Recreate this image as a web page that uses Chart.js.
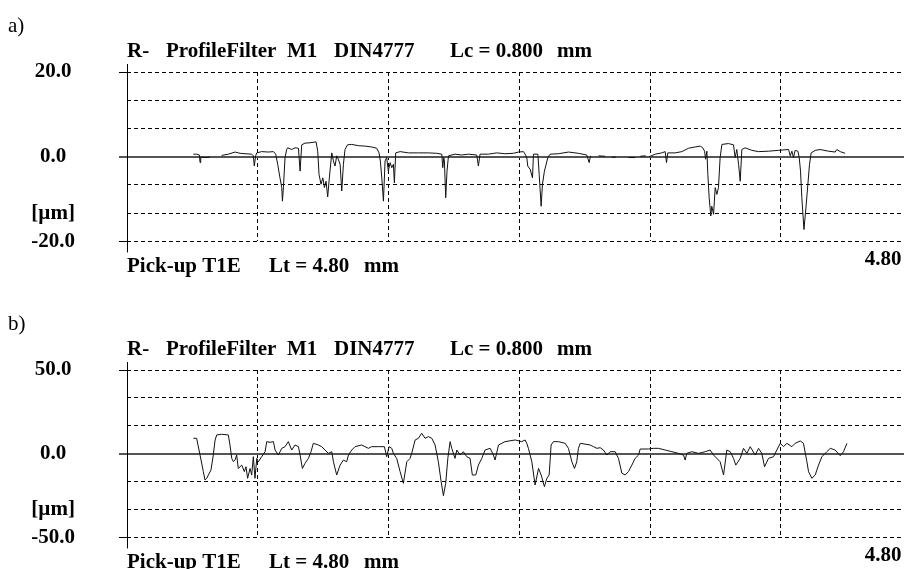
<!DOCTYPE html>
<html>
<head>
<meta charset="utf-8">
<title>R-Profil</title>
<script src="https://cdn.jsdelivr.net/npm/chart.js@4.4.1/dist/chart.umd.min.js"></script>
<style>
  html, body { margin: 0; padding: 0; background: #fff; overflow: hidden; }
  body { width: 904px; height: 569px; position: relative; }
  canvas { position: absolute; left: 0; }
  #profilA { top: 0; }
  #profilB { top: 298px; }
</style>
</head>
<body>
<canvas id="profilA" width="920" height="298"></canvas>
<canvas id="profilB" width="920" height="296"></canvas>
<script>
// Taststrecke Lt in mm, Raster alle 0.8 mm
const xTicks = [0, 0.8, 1.6, 2.4, 3.2, 4.0, 4.8];

// a) Bereich +-20 µm
const yTicksA = [-20, -40 / 3, -20 / 3, 0, 20 / 3, 40 / 3, 20];
const yLabelsA = ["-20.0", "[µm]", "", "0.0", "", "", "20.0"];

// b) Bereich +-50 µm
const yTicksB = [-50, -100 / 3, -50 / 3, 0, 50 / 3, 100 / 3, 50];
const yLabelsB = ["-50.0", "[µm]", "", "0.0", "", "", "50.0"];

// Kopf- und Fusszeile (Text, Abstand von der Achse)
const kopfzeile = [["R-", 0], ["ProfileFilter", 39], ["M1", 160], ["DIN4777", 207], ["Lc = 0.800", 323], ["mm", 430]];
const fusszeile = [["Pick-up T1E", 0], ["Lt = 4.80", 142], ["mm", 237]];

// Profil a): x in mm, y in µm (null = Messluecke)
const profilA_x = [
  0.406, 0.426, 0.443, 0.447, 0.451, 0.477, 0.508, 0.54,
  0.579, 0.620, 0.661, 0.692, 0.722, 0.763, 0.773, 0.779, 0.787, 0.794,
  0.824, 0.865, 0.896, 0.910, 0.922, 0.936, 0.947, 0.951, 0.957, 0.967,
  0.977, 0.983, 1.008, 1.028, 1.049, 1.059, 1.069, 1.089, 1.120, 1.157,
  1.167, 1.175, 1.187, 1.198, 1.208, 1.218, 1.228, 1.238, 1.253, 1.263,
  1.273, 1.283, 1.293, 1.304, 1.314, 1.324, 1.334, 1.349, 1.375, 1.416,
  1.457, 1.497, 1.528, 1.542, 1.550, 1.559, 1.569, 1.579, 1.589, 1.599,
  1.610, 1.620, 1.630, 1.636, 1.644, 1.671, 1.722, 1.783, 1.844, 1.895,
  1.926, 1.932, 1.938, 1.942, 1.950, 1.958, 1.967, 2.007, 2.048, 2.089,
  2.140, 2.150, 2.160, 2.211, 2.262, 2.313, 2.364, 2.395, 2.426, 2.436,
  2.446, 2.452, 2.467, 2.481, 2.487, 2.514, 2.522, 2.534, 2.542, 2.554,
  2.562, 2.575, 2.589, 2.640, 2.701, 2.762, 2.813, 2.828, 2.836, 2.86,
  2.885, 2.926, 2.95, 2.966, 2.991, 3.03, 3.068, 3.109, 3.125, 3.140,
  3.174, 3.185, 3.195, 3.232, 3.272, 3.293, 3.301, 3.309, 3.354, 3.395,
  3.436, 3.476, 3.507, 3.523, 3.534, 3.540, 3.548, 3.554, 3.562, 3.572,
  3.578, 3.589, 3.599, 3.609, 3.619, 3.629, 3.640, 3.680, 3.711, 3.721,
  3.731, 3.742, 3.752, 3.762, 3.782, 3.823, 3.864, 3.925, 3.986, 4.048,
  4.058, 4.068, 4.078, 4.088, 4.105, 4.113, 4.121, 4.129, 4.142, 4.154,
  4.166, 4.176, 4.186, 4.211, 4.241, 4.292, 4.333, 4.343, 4.364, 4.394
];
const profilA_y = [
  0.6, 0.6, 0.4, -1.4, -0.1, -0.2, -0.1, null,
  0.3, 0.6, 1.1, 0.8, 0.7, 0.6, 0.2, -2.2, 0.2, 0.9,
  1.2, 1.1, 1.2, 0.6, -1.8, -5.0, -7.3, -10.5, -7.3, -0.2,
  1.7, 2.1, 1.7, 2.1, 2.0, -3.4, 2.8, 3.2, 3.3, 3.5,
  1.3, -4.2, -6.5, -5.0, -7.3, -5.8, -9.5, -5.0, 0.9, -1.0,
  -2.2, 0.2, -0.6, -1.8, -8.1, -1.8, 1.7, 2.8, 2.9, 2.6,
  2.5, 2.3, 2.0, 0.9, -1.0, -5.0, -10.5, -1.0, -0.2, -3.4,
  -1.4, -2.6, -1.8, -6.2, 0.9, 1.2, 0.9, 0.9, 0.9, 0.8,
  0.6, -2.6, -0.2, -1.0, -9.7, -3.4, 0.2, 0.6, 0.4, 0.6,
  0.4, -2.2, 0.6, 0.6, 0.9, 0.7, 0.8, 1.1, 1.2, 0.6,
  -0.2, -2.2, -3.0, -5.0, 0.6, 0.6, -4.2, -11.7, -6.5, -3.4,
  -2.2, -0.2, 0.6, 0.7, 1.1, 0.8, 0.4, -1.4, 0.2, null,
  0.2, 0.1, null, -0.1, -0.1, null, -0.2, -0.2, null, 0.1,
  0.2, null, 0.0, 0.6, 0.9, 1.2, -1.4, 0.9, 0.9, 1.2,
  2.0, 2.3, 2.5, 2.1, 1.3, -0.6, 1.3, -4.2, -9.7, -14.0,
  -11.7, -13.6, -7.3, -8.9, -7.3, -0.2, 2.9, 3.1, 2.8, -0.2,
  1.7, -1.8, -5.8, 1.7, 2.1, 1.5, 1.2, 1.3, 1.5, 1.7,
  0.2, 1.3, -0.2, 1.5, 1.3, -0.2, -3.4, -9.7, -17.2, -12.1,
  -6.5, -1.8, 0.9, 1.5, 1.7, 1.3, 1.1, 1.7, 1.2, 0.8
];

// Profil b)
const profilB_x = [
  0.406, 0.426, 0.447, 0.467, 0.477, 0.488, 0.498, 0.514, 0.528, 0.539,
  0.549, 0.579, 0.620, 0.630, 0.641, 0.651, 0.661, 0.671, 0.681, 0.702,
  0.718, 0.728, 0.738, 0.753, 0.763, 0.773, 0.783, 0.794, 0.804, 0.824,
  0.845, 0.855, 0.875, 0.896, 0.906, 0.926, 0.947, 0.967, 0.987, 1.008,
  1.028, 1.049, 1.059, 1.073, 1.089, 1.110, 1.126, 1.140, 1.171, 1.191,
  1.212, 1.232, 1.253, 1.263, 1.283, 1.304, 1.324, 1.344, 1.355, 1.375,
  1.395, 1.436, 1.477, 1.497, 1.538, 1.575, 1.589, 1.603, 1.620, 1.630,
  1.650, 1.671, 1.691, 1.712, 1.732, 1.742, 1.763, 1.783, 1.803, 1.824,
  1.844, 1.865, 1.885, 1.905, 1.922, 1.936, 1.950, 1.963, 1.977, 1.987,
  2.007, 2.018, 2.038, 2.058, 2.079, 2.099, 2.113, 2.134, 2.150, 2.171,
  2.191, 2.222, 2.242, 2.252, 2.273, 2.313, 2.375, 2.415, 2.436, 2.446,
  2.456, 2.477, 2.497, 2.518, 2.534, 2.554, 2.569, 2.583, 2.595, 2.609,
  2.640, 2.681, 2.701, 2.722, 2.738, 2.752, 2.762, 2.773, 2.834, 2.854,
  2.875, 2.895, 2.915, 2.936, 2.956, 2.987, 3.007, 3.028, 3.048, 3.068,
  3.089, 3.109, 3.130, 3.140, 3.191, 3.221, 3.252, 3.293, 3.334, 3.374,
  3.405, 3.415, 3.425, 3.456, 3.497, 3.538, 3.568, 3.589, 3.609, 3.629,
  3.650, 3.670, 3.691, 3.711, 3.725, 3.752, 3.772, 3.793, 3.813, 3.844,
  3.864, 3.884, 3.901, 3.925, 3.956, 3.976, 3.997, 4.017, 4.037, 4.068,
  4.088, 4.119, 4.139, 4.160, 4.170, 4.190, 4.211, 4.231, 4.252, 4.282,
  4.303, 4.333, 4.364, 4.384, 4.405
];
const profilB_y = [
  9.2, 9.2, -0.8, -10.7, -15.7, -14.7, -12.7, -9.7, -0.8, 8.2,
  11.2, 11.6, 11.2, 5.2, -2.8, -4.8, -3.8, -0.8, -8.8, -6.8,
  -10.7, -7.8, -14.7, -8.8, -12.7, -1.8, -14.7, -2.8, -4.8, -1.8,
  1.2, 7.2, 6.8, 7.2, 2.2, -0.8, 3.2, 4.2, 7.2, 2.2,
  5.2, 4.2, -0.8, -8.8, -5.8, -2.8, 1.2, 6.2, 5.2, 4.2,
  2.2, 0.2, 1.2, -4.8, -12.7, -6.8, -3.8, -4.8, -0.8, 2.2,
  4.2, 5.2, 3.2, 4.2, 4.2, 4.2, -1.8, 4.2, 3.2, 0.2,
  -2.8, -10.7, -17.7, -4.8, -2.8, 0.2, 8.2, 9.2, 12.2, 9.2,
  10.2, 9.2, 5.2, -4.8, -16.7, -25.1, -17.7, -2.8, 7.2, 3.2,
  -2.8, 2.2, -0.8, 1.2, -1.8, -2.8, -12.7, -12.7, -6.8, -2.8,
  2.2, 3.2, -0.8, -3.8, 5.2, 7.2, 8.2, 7.2, 8.2, 6.2,
  3.2, -4.8, -18.7, -8.8, -12.7, -19.7, -14.7, -12.7, 5.2, 7.2,
  7.2, 6.2, 3.2, -4.8, -8.8, -4.8, 3.2, 6.2, 5.2, 4.2,
  3.2, 3.6, 2.2, -0.8, 1.2, 1.2, -2.8, -11.7, -12.7, -10.7,
  -6.8, -2.8, -0.8, 2.8, 2.8, 3.2, 3.2, 2.2, 1.2, 0.2,
  -0.8, -3.8, 0.2, 1.2, 0.2, 1.2, 2.2, -0.8, -2.8, -4.8,
  -12.7, 2.2, 1.2, -2.8, -6.8, -2.8, 3.2, 0.2, 4.2, -0.8,
  3.2, 0.2, -7.8, -2.8, -1.8, 2.2, 6.2, 4.2, 6.2, 4.2,
  6.2, 7.6, 6.2, -4.8, -10.7, -14.7, -12.7, -6.8, -1.8, 1.2,
  3.2, 2.2, -1.2, 1.2, 6.2
];

const SCHRIFT = '"Liberation Serif", "Times New Roman", serif';

// Beschriftung rund um das Diagramm
const beschriftung = {
  id: "beschriftung",
  afterDraw(chart, args, opts) {
    const { ctx, chartArea: a } = chart;
    ctx.save();
    ctx.fillStyle = "#000";
    ctx.textBaseline = "alphabetic";
    ctx.textAlign = "left";
    ctx.font = "21px " + SCHRIFT;
    ctx.fillText(opts.marke, 8, a.top - 40);
    ctx.font = "bold 21px " + SCHRIFT;
    kopfzeile.forEach(([t, dx]) => ctx.fillText(t, a.left + dx, a.top - 15));
    fusszeile.forEach(([t, dx]) => ctx.fillText(t, a.left + dx, a.bottom + 31));
    ctx.textAlign = "right";
    ctx.fillText(xTicks[xTicks.length - 1].toFixed(2), a.right - 10, a.bottom + 24);

    // linke Achse, etwas ueber das Raster hinaus
    ctx.strokeStyle = "#000";
    ctx.lineWidth = 1;
    ctx.beginPath();
    ctx.moveTo(a.left + 0.5, a.top - 8);
    ctx.lineTo(a.left + 0.5, a.bottom + 11);
    ctx.stroke();
    ctx.restore();
  }
};

function zeichneProfil(id, marke, xs, ys, yTicks, yLabels) {
  const punkte = xs.map((x, i) => ({ x, y: ys[i] }));
  const yMax = yTicks[yTicks.length - 1];
  return new Chart(document.getElementById(id), {
    type: "line",
    data: {
      datasets: [{
        data: punkte,
        borderColor: "#111",
        borderWidth: 1,
        pointRadius: 0,
        tension: 0,
        spanGaps: false
      }]
    },
    options: {
      responsive: false,
      animation: false,
      events: [],
      layout: { padding: { top: 72, bottom: 0, left: 0, right: 8.5 } },
      plugins: {
        legend: { display: false },
        tooltip: { enabled: false },
        beschriftung: { marke }
      },
      scales: {
        x: {
          type: "linear",
          min: 0,
          max: xTicks[xTicks.length - 1],
          afterBuildTicks: s => { s.ticks = xTicks.map(v => ({ value: v })); },
          afterFit: s => { s.height = 0; },
          ticks: { display: false },
          border: { display: false, dash: [4, 3] },
          grid: {
            drawTicks: false,
            color: c => (c.tick && c.tick.value === 0 ? "rgba(0,0,0,0)" : "#000"),
            lineWidth: 1
          }
        },
        y: {
          type: "linear",
          min: -yMax,
          max: yMax,
          afterBuildTicks: s => { s.ticks = yTicks.map(v => ({ value: v })); },
          afterFit: s => { s.width = 127; },
          ticks: {
            callback: (v, i) => yLabels[i],
            color: "#000",
            font: { family: SCHRIFT, size: 21, weight: "bold" },
            crossAlign: "center",
            padding: 44,
            autoSkip: false
          },
          border: {
            display: false,
            dash: c => (c.tick && c.tick.value === 0 ? [] : [4, 3])
          },
          grid: {
            color: c => (c.tick && c.tick.value === 0 ? "#555" : "#000"),
            lineWidth: c => (c.tick && c.tick.value === 0 ? 2 : 1),
            tickLength: 8,
            tickColor: c => {
              if (!c.tick) return "rgba(0,0,0,0)";
              if (c.tick.value === 0) return "#555";
              return Math.abs(c.tick.value) === yMax ? "#000" : "rgba(0,0,0,0)";
            },
            tickWidth: c => (c.tick && c.tick.value === 0 ? 2 : 1)
          }
        }
      }
    },
    plugins: [beschriftung]
  });
}

zeichneProfil("profilA", "a)", profilA_x, profilA_y, yTicksA, yLabelsA);
zeichneProfil("profilB", "b)", profilB_x, profilB_y, yTicksB, yLabelsB);
</script>
</body>
</html>
